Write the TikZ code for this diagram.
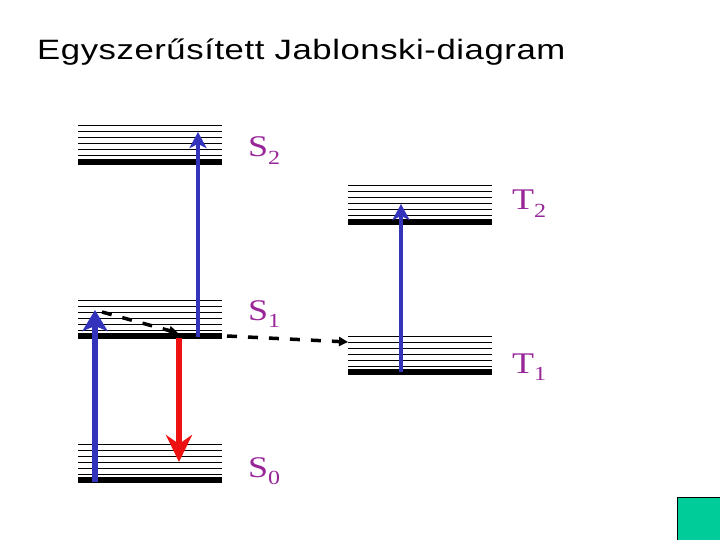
\documentclass[tikz,border=0pt]{standalone}
\usepackage{fontspec}
\setmainfont{Liberation Serif}
\newfontfamily\titlefont[FakeStretch=1.24,LetterSpace=2]{Liberation Sans}
\newfontfamily\statefont[FakeStretch=1.2]{Liberation Serif}
\usetikzlibrary{arrows.meta}
\definecolor{statepurple}{RGB}{153,38,153}
\definecolor{pumpblue}{RGB}{51,51,187}
\definecolor{emitred}{RGB}{238,17,17}
\definecolor{cornergreen}{RGB}{0,204,153}
\newcommand{\statename}[2]{#1\raisebox{-7.5bp}{\fontsize{20bp}{20bp}\selectfont#2}}

\begin{document}
\begin{tikzpicture}[
            x=1bp, y=-1bp,
            line cap=butt,
            thin level/.style={line width=1bp},
            ground level/.style={line width=6bp},
            state label/.style={anchor=base west, inner sep=0pt, text=statepurple,
                font=\statefont\fontsize{30bp}{30bp}\selectfont},
            excite/.style={draw=pumpblue, line width=4.5bp,
                -{Stealth[length=16bp, width=17bp, inset=4bp]}},
            strong excite/.style={draw=pumpblue, line width=6.5bp,
                -{Stealth[length=21bp, width=25bp, inset=5bp]}},
            decay/.style={draw=emitred, line width=6bp,
                -{Stealth[length=27bp, width=26bp, inset=9bp]}},
            nonradiative/.style={draw=black, line width=3.5bp, dash pattern=on 10bp off 11bp,
                -{Triangle[length=9bp, width=9bp]}},
        ]
        \useasboundingbox (0,0) rectangle (720,540);

        \node[anchor=base west, inner sep=0pt, font=\titlefont\fontsize{28bp}{30bp}\selectfont]
            (title) at (37,60) {Egyszerűsített Jablonski-diagram};

        \foreach \name/\xl/\yg in {S0/78/480, S1/78/336, S2/78/162, T1/348/372, T2/348/222} {
            \foreach \k in {1,...,6}
                \draw[thin level] (\xl,\yg-6*\k) -- ++(144,0);
            \draw[ground level] (\xl,\yg) -- ++(144,0);
            \coordinate (\name) at (\xl,\yg);
        }

        \node[state label] (lS2) at (248,157) {\statename{S}{2}};
        \node[state label] (lS1) at (248,320) {\statename{S}{1}};
        \node[state label] (lS0) at (248,477) {\statename{S}{0}};
        \node[state label] (lT2) at (512,210) {\statename{T}{2}};
        \node[state label] (lT1) at (512,373) {\statename{T}{1}};

        \coordinate (absBase) at (95,482);
        \coordinate (absTop) at (95,310);
        \coordinate (exBase) at (198,337);
        \coordinate (exTop) at (198,132);
        \coordinate (tBase) at (401,372);
        \coordinate (tTop) at (401,204);
        \coordinate (fluoBase) at (179,338);
        \coordinate (fluoTip) at (179,462);
        \coordinate (relaxFrom) at (102,312);
        \coordinate (relaxTo) at (178,333);
        \coordinate (iscFrom) at (227,336);
        \coordinate (iscTo) at (348,342);

        \draw[strong excite] (absBase) -- (absTop);
        \draw[excite] (exBase) -- (exTop);
        \draw[excite] (tBase) -- (tTop);
        \draw[decay] (fluoBase) -- (fluoTip);
        \draw[nonradiative] (relaxFrom) -- (relaxTo);
        \draw[nonradiative] (iscFrom) -- (iscTo);

        \draw[fill=cornergreen, line width=0.8bp] (677,497) rectangle (724,544);
        \end{tikzpicture}
\end{document}
